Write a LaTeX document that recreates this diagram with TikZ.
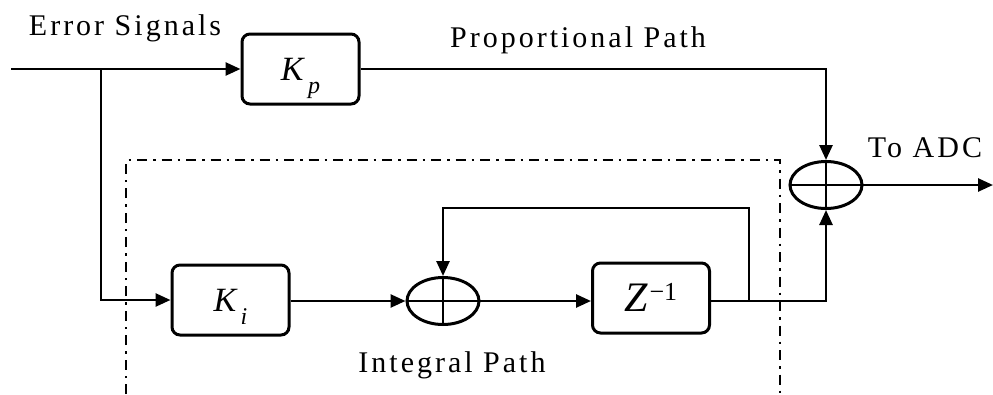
\documentclass[tikz,border=0pt]{standalone}
\usepackage{fontspec}
\setmainfont{Liberation Serif}
\newfontfamily\spaced{Liberation Serif}[LetterSpace=10]
\usetikzlibrary{arrows.meta,shapes.geometric}

% gain symbol K with a lowered subscript
\newcommand\gainK[1]{\fontsize{34}{34}\selectfont\textit{K}\hspace{3pt}\smash{\raisebox{-13pt}{\fontsize{24}{24}\selectfont\textit{#1}}}}
% unit delay Z^{-1}
\newcommand\zdelay{\fontsize{42}{42}\selectfont\textit{Z}\hspace{1pt}\smash{\raisebox{11pt}{\fontsize{26}{26}\selectfont −1}}}

\begin{document}
\begin{tikzpicture}[x=1pt,y=-1pt,line width=2.6pt,
  blk/.style={draw, line width=3pt, rounded corners=8pt, minimum width=117pt,
              minimum height=70pt, inner sep=0pt},
  sumj/.style={draw, ellipse, line width=3pt, minimum width=72pt,
               minimum height=47pt, inner sep=0pt},
  sig/.style={-{Triangle[length=15pt,width=13pt]}},
  lbl/.style={font=\fontsize{30}{32}\selectfont\spaced, anchor=base, inner sep=0pt},
  frame/.style={line width=2.6pt, dash pattern=on 10pt off 6pt on 2.5pt off 6pt}]
\useasboundingbox (0,0) rectangle (993,394);

% integral-path enclosure (open at the bottom)
\draw[frame] (126,394) -- (126,160) -- (780,160) -- (780,394);

% blocks
\node[blk] (kp) at (300.5,69) {\gainK{p}};
\node[blk] (ki) at (230.5,300) {\gainK{i}};
\node[blk] (zd) at (651,298) {\zdelay};

% summing junctions
\node[sumj] (s1) at (443,301) {};
\node[sumj] (s2) at (826,185) {};
\foreach \s in {s1,s2}
  \draw[line width=2.6pt] (\s.north) -- (\s.south) (\s.west) -- (\s.east);

% coordinates for line ends and corners
\coordinate (in) at (11,69);
\coordinate (br) at (101,69);
\coordinate (out) at (993,185);
\coordinate (tap) at (749,301);

% labels
\node[lbl] (es) at (125,35) {Error Signals};
\node[lbl] (pp) at (578,47) {Proportional Path};
\node[lbl] (ip) at (452,372) {Integral Path};
\node[lbl] (adc) at (925,157) {To ADC};

% proportional path
\draw[sig] (in) -- (kp.west);
\draw[sig] (kp.east) -| (s2.north);
\draw[sig] (s2.east) -- (out);

% integral path
\draw[sig] (br) |- (ki.west);
\draw[sig] (ki.east |- s1) -- (s1.west);
\draw[sig] (s1.east) -- (zd.west |- s1);
\draw (zd.east |- s1) -- (tap);
\draw[sig] (tap) -- (tap -| s2) -- (s2.south);
\draw[sig] (tap) -- (749,208) -| (s1.north);
\end{tikzpicture}
\end{document}
